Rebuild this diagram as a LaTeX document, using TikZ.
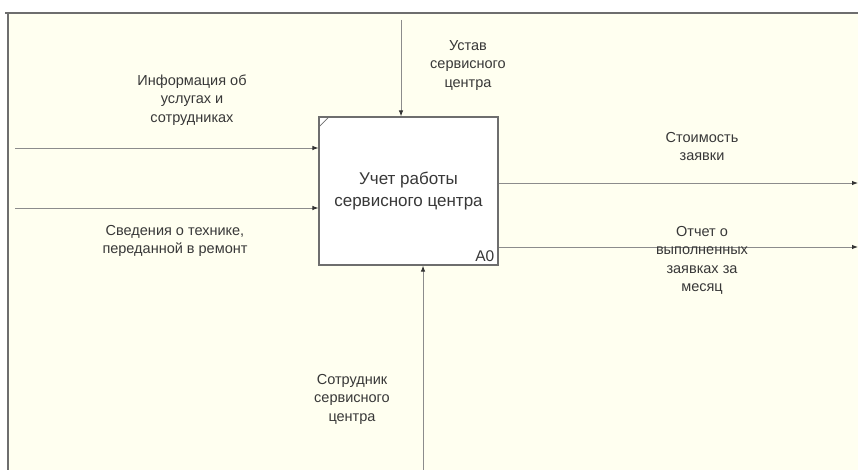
\documentclass[tikz,border=0pt]{standalone}
\usepackage{fontspec}
\setmainfont{Liberation Sans}
\usetikzlibrary{arrows.meta}
\definecolor{bgcream}{HTML}{FFFFF0}
\definecolor{linegray}{HTML}{8C8C8C}
\definecolor{framegray}{HTML}{6E6E6E}
\definecolor{txtgray}{HTML}{383838}
\tikzset{
  lbl/.style={align=center, font=\fontsize{14.5}{18.5}\selectfont, text=txtgray, inner sep=0pt},
  flow/.style={draw=linegray, line width=0.9pt, -{Latex[length=6pt,width=4.5pt,color=black!80]}},
  actbox/.style={draw=framegray, line width=1.1pt, fill=white, minimum width=179pt, minimum height=148pt, inner sep=0pt, align=center, font=\fontsize{17}{22}\selectfont, text=txtgray},
}
\begin{document}
\begin{tikzpicture}[x=1pt,y=-1pt]
\useasboundingbox (0,0) rectangle (858,470);
\fill[white] (0,0) rectangle (858,470);
\fill[bgcream] (8,13) rectangle (858,470);
\draw[framegray, line width=1.3pt] (5,13) -- (858,13);
\draw[framegray, line width=1.3pt] (8,13) -- (8,470);

\node[actbox] (A) at (408.5,191) {Учет работы\\сервисного центра};
\draw[framegray, line width=0.8pt] ([yshift=-11pt]A.north west) -- ([xshift=11pt]A.north west);
\node[anchor=south east, font=\fontsize{15.5}{18}\selectfont, text=txtgray, inner sep=0pt] (a0) at ([xshift=-4pt,yshift=4pt]A.south east) {A0};

% inputs
\coordinate (in1) at (15,148);
\coordinate (in2) at (15,208);
\draw[flow] (in1) -- (in1 -| A.west);
\draw[flow] (in2) -- (in2 -| A.west);
\node[lbl] (l1) at (192,100) {Информация об\\услугах и\\сотрудниках};
\node[lbl] (l2) at (175,241) {Сведения о технике,\\переданной в ремонт};

% control
\coordinate (ctl) at (401,20);
\draw[flow] (ctl) -- (ctl |- A.north);
\node[lbl] (l3) at (468,65.5) {Устав\\сервисного\\центра};

% outputs
\coordinate (out1) at (858,183);
\coordinate (out2) at (858,247);
\draw[flow] (out1 -| A.east) -- (out1);
\draw[flow] (out2 -| A.east) -- (out2);
\node[lbl] (l4) at (702,146.5) {Стоимость\\заявки};
\node[lbl] (l5) at (702,260.5) {Отчет о\\выполненных\\заявках за\\месяц};

% mechanism
\coordinate (mech) at (423,470);
\draw[flow] (mech) -- (mech |- A.south);
\node[lbl] (l6) at (352,399) {Сотрудник\\сервисного\\центра};
\end{tikzpicture}
\end{document}
